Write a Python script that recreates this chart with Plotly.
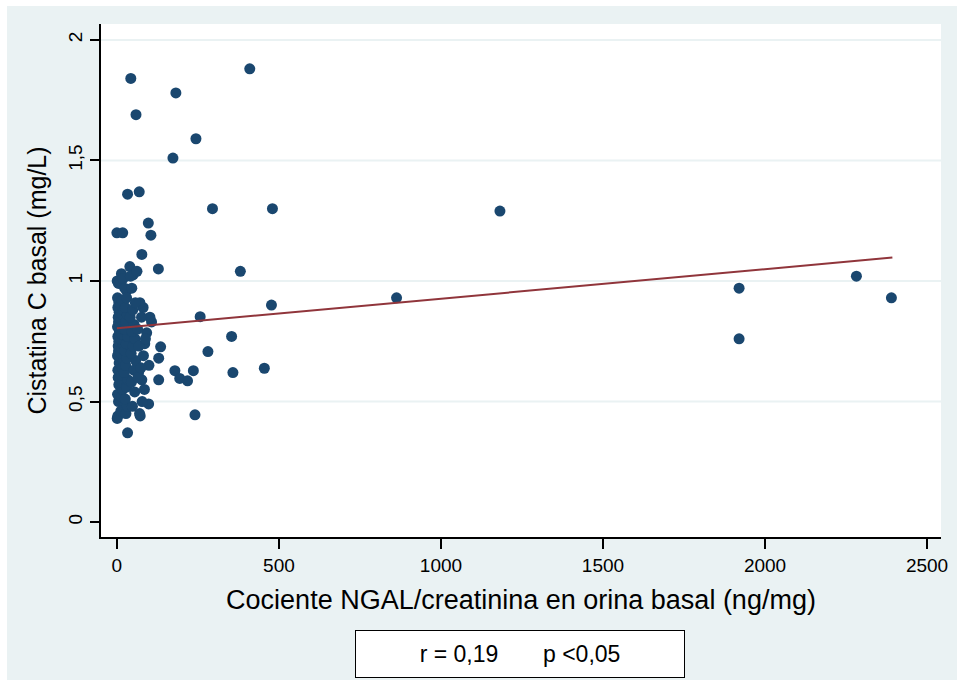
import plotly.graph_objects as go

# --- data ---
ngal = [
    43, 59, 182, 410, 173, 244, 33, 69, 0, 18, 97, 105, 77, 128,
    295, 480, 1182, 381, 863, 477, 1920, 1920, 2282, 2390,
    257, 281, 354, 358, 455, 179, 194, 218, 236, 241,
    135, 129, 129, 99, 98, 72, 33, 1, 107, 102, 81, 71, 30, 40, 14, 50, 1,
    86, 92, 77, 67,
    # dense cluster
    3, 5, 2, 6, 4, 3, 7, 2, 5, 4, 6, 3, 8, 2, 5, 4, 7, 3, 6, 2, 5,
    12, 15, 18, 11, 14, 17, 20, 13, 16, 19, 12, 15, 18, 11, 14, 17, 20, 13, 16, 19,
    24, 28, 32, 26, 30, 34, 23, 27, 31, 25, 29, 33, 24, 28, 32, 26, 30,
    42, 48, 55, 45, 52, 58, 44, 50, 56, 47, 53, 41, 49, 57, 46,
    62, 70, 78, 85, 65, 74, 82, 68, 88, 64, 76,
]
cistatina = [
    1.84, 1.69, 1.78, 1.88, 1.51, 1.59, 1.36, 1.37, 1.20, 1.20, 1.24, 1.19, 1.11, 1.05,
    1.30, 1.30, 1.29, 1.04, 0.93, 0.90, 0.97, 0.76, 1.02, 0.93,
    0.852, 0.707, 0.77, 0.62, 0.638, 0.628, 0.596, 0.586, 0.628, 0.445,
    0.727, 0.68, 0.59, 0.65, 0.49, 0.44, 0.37, 0.43, 0.83, 0.85, 0.89, 0.91, 0.96, 1.06, 1.03, 1.025, 1.00,
    0.74, 0.785, 0.59, 0.62,
    # dense cluster
    0.44, 0.50, 0.53, 0.57, 0.60, 0.63, 0.66, 0.69, 0.71, 0.73, 0.75, 0.77, 0.79, 0.81, 0.83, 0.85, 0.87, 0.89, 0.91, 0.93, 0.99,
    0.46, 0.52, 0.55, 0.58, 0.61, 0.64, 0.67, 0.70, 0.72, 0.74, 0.76, 0.78, 0.80, 0.82, 0.84, 0.86, 0.88, 0.90, 0.92, 1.01, 0.97,
    0.45, 0.48, 0.51, 0.56, 0.59, 0.62, 0.65, 0.68, 0.71, 0.74, 0.77, 0.80, 0.83, 0.86, 0.89, 0.93, 1.02,
    0.48, 0.54, 0.58, 0.63, 0.67, 0.70, 0.73, 0.76, 0.79, 0.82, 0.85, 0.88, 0.91, 0.97, 1.04,
    0.45, 0.50, 0.55, 0.60, 0.64, 0.69, 0.73, 0.76, 0.80, 0.85, 0.90,
]
n = min(len(ngal), len(cistatina))
ngal = ngal[:n]
cistatina = cistatina[:n]

fit_x = [0, 2393]
fit_y = [0.804, 1.097]

x_ticks = [0, 500, 1000, 1500, 2000, 2500]
x_ticklabels = ["0", "500", "1000", "1500", "2000", "2500"]
y_ticks = [0, 0.5, 1, 1.5, 2]
y_ticklabels = ["0", "0,5", "1", "1,5", "2"]

x_title = "Cociente NGAL/creatinina en orina basal (ng/mg)"
y_title = "Cistatina C basal (mg/L)"
note = "r = 0,19" + "\u00a0" * 7 + "p <0,05"

BG = "#eaf2f3"
NAVY = "#1a476f"
MAROON = "#90353b"
SANS = "Liberation Sans, Arial, sans-serif"

fig = go.Figure()
fig.add_trace(go.Scatter(
    x=ngal, y=cistatina, mode="markers",
    marker=dict(size=11, color=NAVY, line=dict(width=0)),
    showlegend=False, hoverinfo="x+y",
))
fig.add_trace(go.Scatter(
    x=fit_x, y=fit_y, mode="lines",
    line=dict(color=MAROON, width=2),
    showlegend=False,
))

shapes = [dict(type="rect", xref="paper", yref="paper",
               x0=-0.1119, x1=1.019, y0=-0.2788, y1=1.0351,
               fillcolor=BG, line=dict(width=0), layer="below"),
          dict(type="rect", xref="paper", yref="paper",
               x0=0, x1=1, y0=0, y1=1,
               fillcolor="white", line=dict(width=0), layer="below")]
for v in y_ticks[1:]:
    shapes.append(dict(type="line", xref="paper", yref="y", x0=0, x1=1, y0=v, y1=v,
                       line=dict(color=BG, width=2), layer="below"))

fig.update_layout(
    width=962, height=684,
    margin=dict(l=101, r=21, t=24, b=147),
    paper_bgcolor="white", plot_bgcolor="rgba(0,0,0,0)",
    shapes=shapes,
    xaxis=dict(
        range=[-49, 2543], tickmode="array", tickvals=x_ticks, ticktext=x_ticklabels,
        showgrid=False, zeroline=False, showline=True, linecolor="black", linewidth=2,
        ticks="outside", ticklen=10, tickwidth=2, tickcolor="black",
        tickfont=dict(family=SANS, size=19, color="black"),
        title=dict(text=x_title, font=dict(family=SANS, size=27, color="black"), standoff=15),
    ),
    yaxis=dict(
        range=[-0.062, 2.066], tickmode="array", tickvals=y_ticks, ticktext=y_ticklabels,
        showgrid=False, zeroline=False, showline=True, linecolor="black", linewidth=2,
        ticks="outside", ticklen=9, tickwidth=2, tickcolor="black", tickangle=-90,
        tickfont=dict(family=SANS, size=19, color="black"),
        title=dict(text=y_title, font=dict(family=SANS, size=25, color="black"), standoff=12),
    ),
    annotations=[dict(
        text=note, xref="paper", yref="paper", x=0.4988, y=-0.228,
        xanchor="center", yanchor="middle", showarrow=False,
        font=dict(family=SANS, size=23, color="black"),
        bgcolor="white", bordercolor="black", borderwidth=1, borderpad=0,
        width=328, height=46,
    )],
)

fig.write_html("out.html", config={"displayModeBar": False},
               post_script="document.body.style.margin='0';document.body.style.overflow='hidden';")
